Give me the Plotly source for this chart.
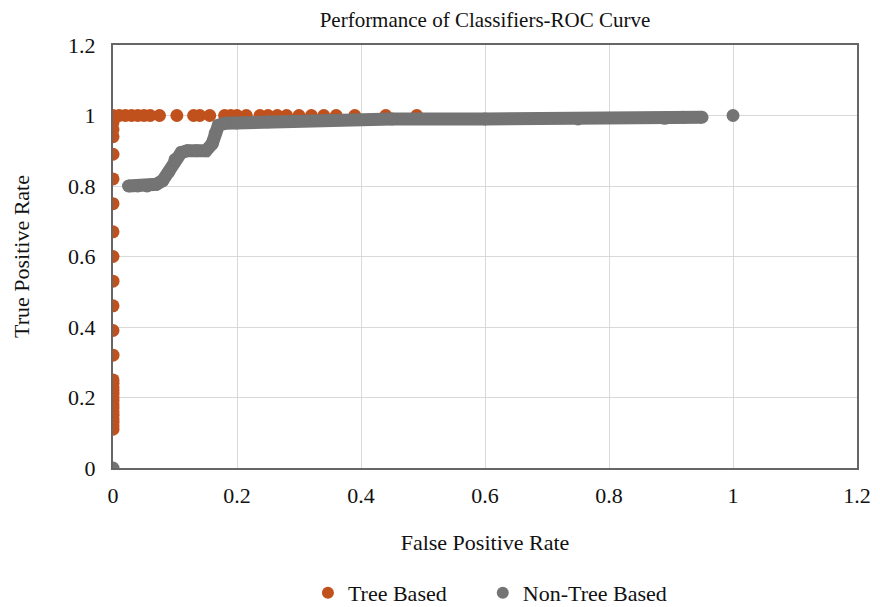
import plotly.graph_objects as go

# Tree Based (orange) points
tree_x = [0]*15 + [0]*9 + [0]*4 + [0.01, 0.02, 0.03, 0.04, 0.05, 0.06, 0.075,
          0.103, 0.13, 0.14, 0.156, 0.18, 0.19, 0.20, 0.215, 0.237, 0.25, 0.265, 0.28,
          0.30, 0.32, 0.34, 0.36, 0.39, 0.44, 0.49]
tree_y = [0.11, 0.12, 0.13, 0.14, 0.15, 0.16, 0.17, 0.18, 0.19, 0.20, 0.21, 0.22, 0.23, 0.24, 0.25,
          0.32, 0.39, 0.46, 0.53, 0.60, 0.67, 0.75, 0.82, 0.89,
          0.94, 0.96, 0.98, 1.0] + [1.0]*26

# Non-Tree Based (gray) curve vertices
nontree_x = [0.025, 0.04, 0.055, 0.07, 0.08, 0.09, 0.10, 0.11, 0.12, 0.135, 0.15, 0.16, 0.165,
             0.17, 0.18, 0.20, 0.25, 0.35, 0.45, 0.60, 0.75, 0.89, 0.92, 0.95]
nontree_y = [0.80, 0.80, 0.80, 0.805, 0.815, 0.84, 0.875, 0.895, 0.90, 0.90, 0.90, 0.92, 0.95,
             0.972, 0.978, 0.979, 0.982, 0.986, 0.99, 0.99, 0.99, 0.992, 0.995, 0.995]
# isolated gray points
nontree_iso_x = [0, 1.0]
nontree_iso_y = [0, 1.0]

x_ticks = [0, 0.2, 0.4, 0.6, 0.8, 1, 1.2]
y_ticks = [0, 0.2, 0.4, 0.6, 0.8, 1, 1.2]
x_tick_labels = ["0", "0.2", "0.4", "0.6", "0.8", "1", "1.2"]
y_tick_labels = ["0", "0.2", "0.4", "0.6", "0.8", "1", "1.2"]

ORANGE = "#C0501C"
GRAY = "#747474"
FONT = "Liberation Serif"
TXT = "#111111"

fig = go.Figure()
fig.add_trace(go.Scatter(x=tree_x, y=tree_y, mode="markers", name="Tree Based",
                         marker=dict(color=ORANGE, size=13), legend="legend"))
fig.add_trace(go.Scatter(x=nontree_x, y=nontree_y, mode="lines", showlegend=False,
                         line=dict(color=GRAY, width=13), hoverinfo="skip"))
fig.add_trace(go.Scatter(x=nontree_iso_x[:1] + nontree_x + nontree_iso_x[1:],
                         y=nontree_iso_y[:1] + nontree_y + nontree_iso_y[1:],
                         mode="markers", name="Non-Tree Based",
                         marker=dict(color=GRAY, size=13), legend="legend2"))

axis_common = dict(
    showgrid=True, gridcolor="#D9D9D9", gridwidth=1,
    showline=True, linecolor="#666666", linewidth=2, mirror=True,
    zeroline=False, ticks="outside", tickcolor="rgba(0,0,0,0)",
    tickfont=dict(family=FONT, size=22, color=TXT), automargin=False,
)

legend_common = dict(orientation="h", y=-0.2955, yanchor="middle", xanchor="left",
                     font=dict(family=FONT, size=22, color=TXT), itemsizing="constant",
                     bgcolor="rgba(0,0,0,0)")

fig.update_layout(
    width=872, height=599, autosize=False,
    paper_bgcolor="white", plot_bgcolor="white",
    margin=dict(l=105, r=23, t=37, b=139, autoexpand=False),
    font=dict(family=FONT, size=22, color=TXT),
    title=dict(text="Performance of Classifiers-ROC Curve", x=0.547, xanchor="center",
               y=0.98, yanchor="middle", font=dict(family=FONT, size=21, color=TXT),
               automargin=False),
    xaxis=dict(range=[0, 1.2], tickvals=x_ticks, ticktext=x_tick_labels, ticklen=7,
               title=dict(text="False Positive Rate", standoff=27,
                          font=dict(family=FONT, size=22, color=TXT)),
               **axis_common),
    yaxis=dict(range=[0, 1.2], tickvals=y_ticks, ticktext=y_tick_labels, ticklen=11,
               title=dict(text="True Positive Rate", standoff=32,
                          font=dict(family=FONT, size=22, color=TXT)),
               **axis_common),
    legend=dict(x=0.262, **legend_common),
    legend2=dict(x=0.497, **legend_common),
    showlegend=True,
)

fig.write_html("out.html")
